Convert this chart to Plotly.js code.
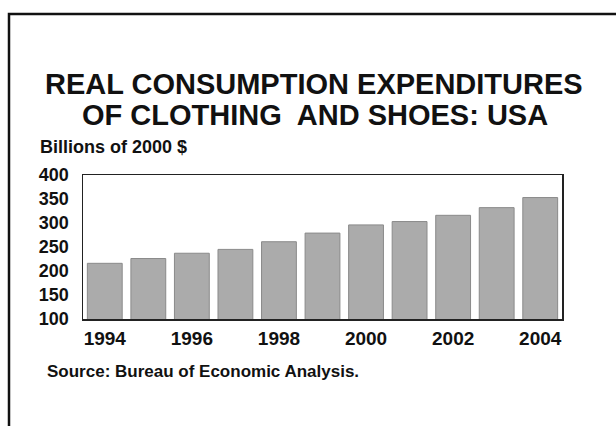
<!DOCTYPE html>
<html><head><meta charset="utf-8">
<script src="https://cdn.plot.ly/plotly-3.0.1.min.js"></script>
<style>html,body{margin:0;padding:0;background:#fff;}#chart{width:616px;height:426px;}</style>
</head><body><div id="chart"></div>
<script>
const years = [1994, 1995, 1996, 1997, 1998, 1999, 2000, 2001, 2002, 2003, 2004];
const expenditures = [216, 226, 237, 245, 261, 279, 296, 303, 316, 332, 353];
const xTickLabels = ['1994', '1996', '1998', '2000', '2002', '2004'];
const yTickValues = [100, 150, 200, 250, 300, 350, 400];
const titleLines = ['REAL CONSUMPTION EXPENDITURES', 'OF CLOTHING  AND SHOES: USA'];
const unitLabel = 'Billions of 2000 $';
const sourceNote = 'Source: Bureau of Economic Analysis.';

const FONT = 'Liberation Sans, Arial, sans-serif';
const W = 616, H = 426, L = 83, R = 54, T = 175, B = 107;
const pw = W - L - R, ph = H - T - B;
const px = x => (x - L) / pw;
const py = y => (H - B - y) / ph;

const trace = {
  type: 'bar', x: years, y: expenditures,
  marker: {color: '#ababab', line: {color: '#8a8a8a', width: 1}},
  hoverinfo: 'skip'
};

const layout = {
  width: W, height: H,
  margin: {l: L, r: R, t: T, b: B, pad: 0},
  paper_bgcolor: '#ffffff', plot_bgcolor: '#ffffff',
  showlegend: false, bargap: 0.2,
  font: {family: FONT, color: '#111', weight: 'bold'},
  xaxis: {
    range: [1993.5, 2004.5], tickvals: xTickLabels.map(Number), ticktext: xTickLabels,
    ticks: '', showgrid: false, zeroline: false, showline: true, mirror: true,
    linecolor: '#222', linewidth: 1.5, ticklabelstandoff: 2,
    tickfont: {family: FONT, size: 19, color: '#111', weight: 'bold'}
  },
  yaxis: {
    range: [100, 400], tickvals: yTickValues, ticks: '', showgrid: false, zeroline: false,
    showline: true, mirror: true, linecolor: '#222', linewidth: 1.5, ticklabelstandoff: 9,
    tickfont: {family: FONT, size: 18, color: '#111', weight: 'bold'}
  },
  annotations: [
    {text: titleLines[0], xref: 'paper', yref: 'paper', x: px(314), y: py(84), xanchor: 'center', yanchor: 'middle', showarrow: false, font: {family: FONT, size: 29, color: '#111', weight: 'bold'}},
    {text: titleLines[1], xref: 'paper', yref: 'paper', x: px(315), y: py(115), xanchor: 'center', yanchor: 'middle', showarrow: false, font: {family: FONT, size: 29, color: '#111', weight: 'bold'}},
    {text: unitLabel, xref: 'paper', yref: 'paper', x: px(38), y: py(147), xanchor: 'left', yanchor: 'middle', showarrow: false, font: {family: FONT, size: 18, color: '#111', weight: 'bold'}},
    {text: sourceNote, xref: 'paper', yref: 'paper', x: px(45), y: py(371), xanchor: 'left', yanchor: 'middle', showarrow: false, font: {family: FONT, size: 17, color: '#111', weight: 'bold'}}
  ],
  shapes: [
    {type: 'rect', xref: 'paper', yref: 'paper', x0: px(9), x1: px(640), y0: py(450), y1: py(14), line: {color: '#111', width: 2.5}, fillcolor: 'rgba(0,0,0,0)', layer: 'below'}
  ]
};

Plotly.newPlot('chart', [trace], layout, {staticPlot: true, displayModeBar: false});
</script></body></html>
